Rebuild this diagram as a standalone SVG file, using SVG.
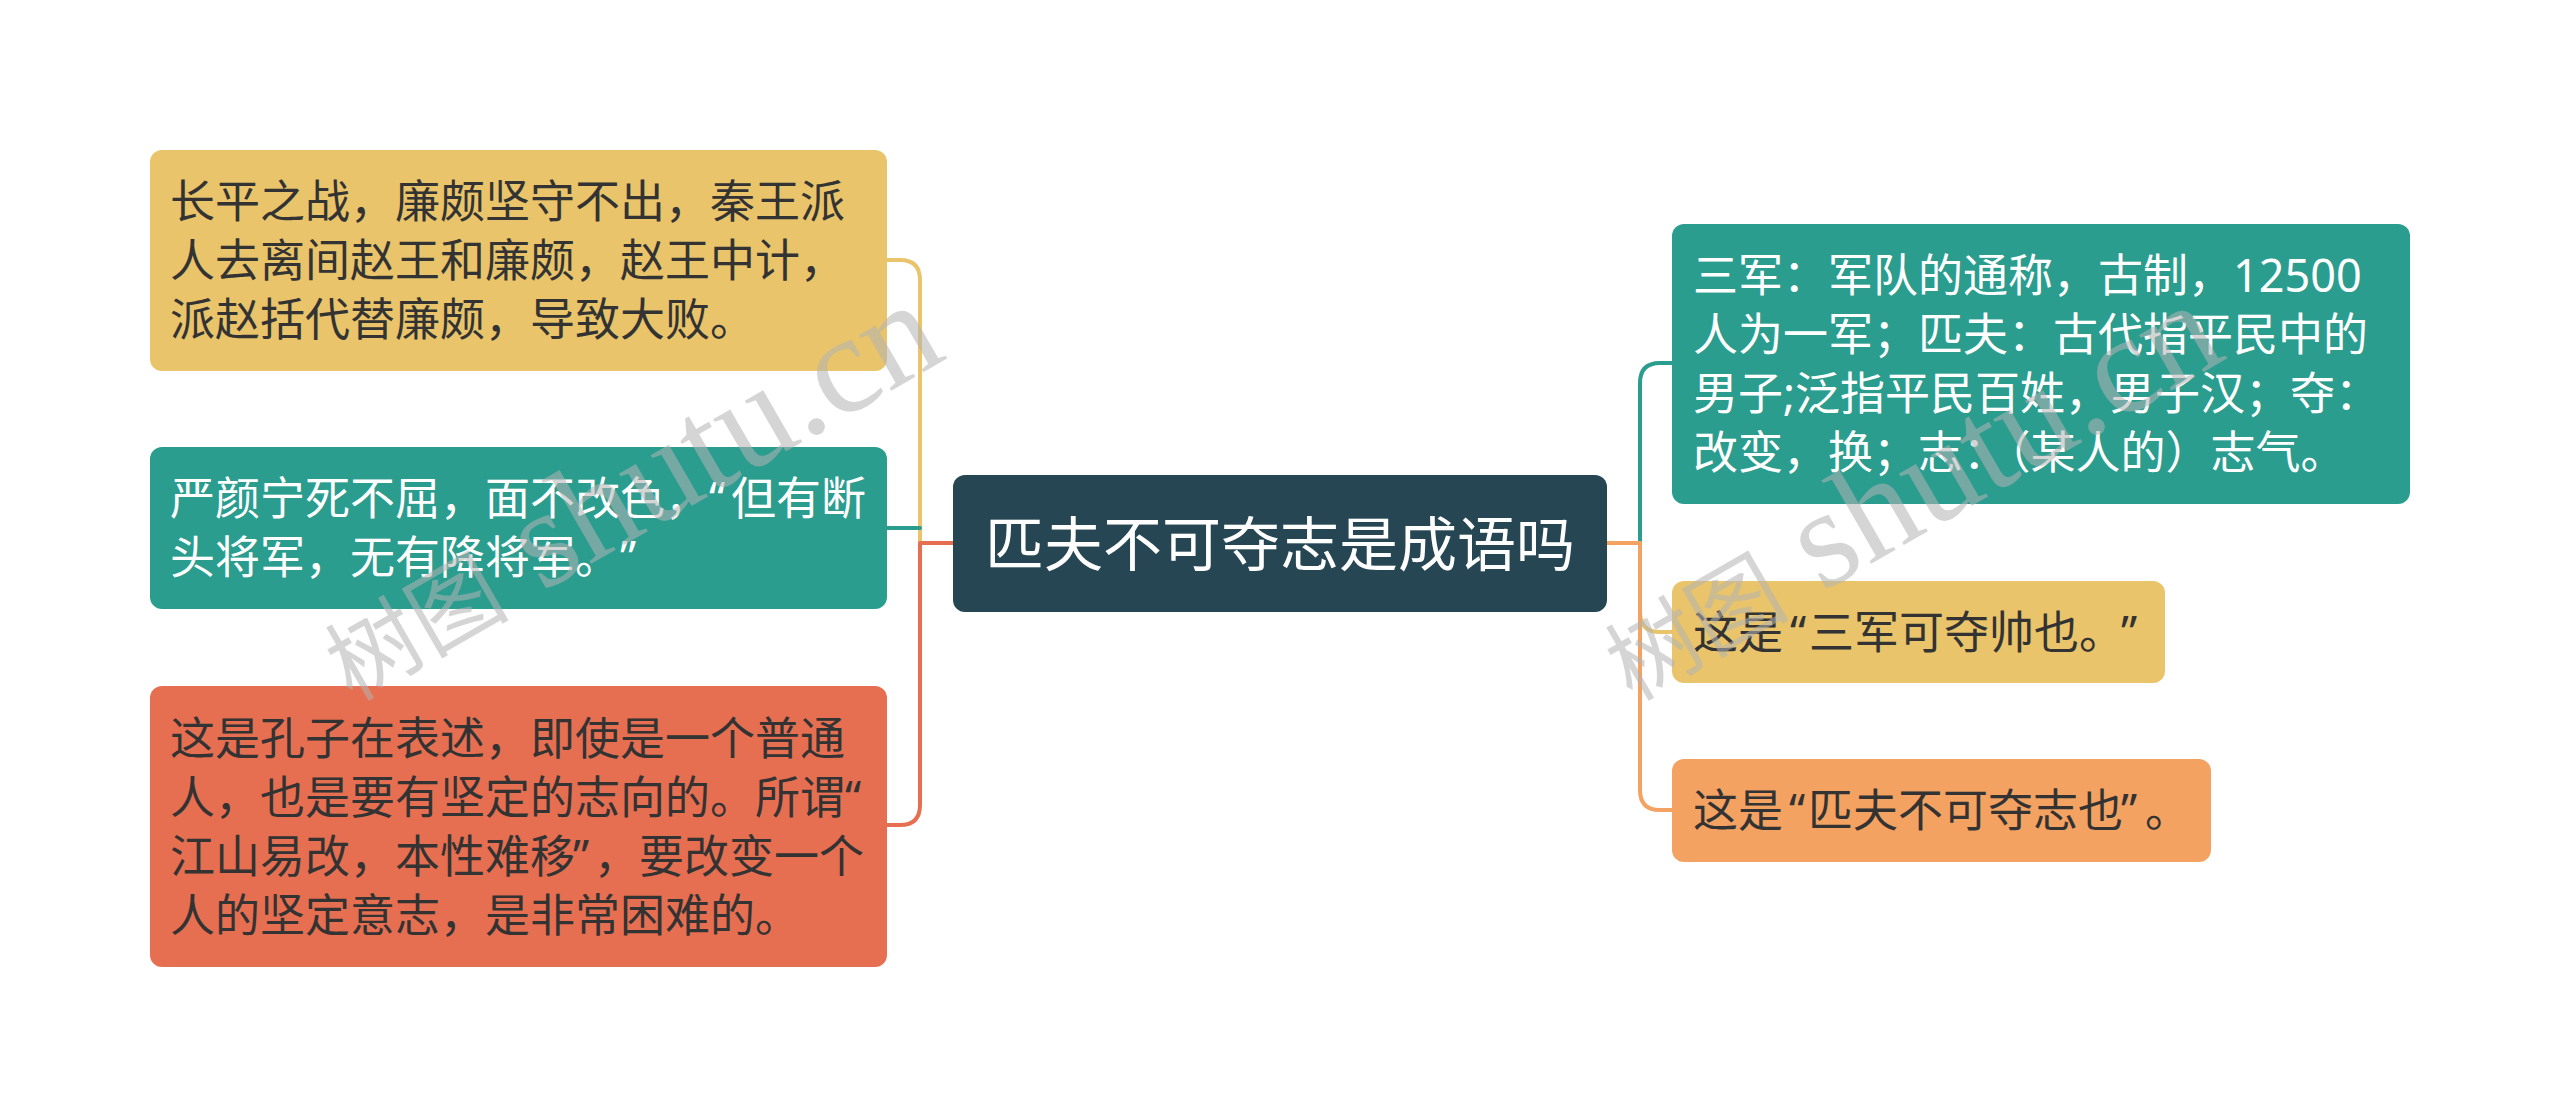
<svg xmlns="http://www.w3.org/2000/svg" width="2560" height="1116" viewBox="0 0 2560 1116">
<style>
.t{font-family:"Noto Sans","Noto Sans CJK SC",sans-serif;font-size:45px}
.q{font-family:"Noto Sans","Liberation Sans",sans-serif}
.dk{fill:#333333}
.wt{fill:#ffffff}
.ln{fill:none;stroke-width:4;stroke-linecap:round;stroke-linejoin:round}
.wm{font-family:"Liberation Serif","Noto Sans CJK SC",serif;fill:#b4b4b4;opacity:0.55}
</style>
<rect width="2560" height="1116" fill="#ffffff"/>
<g id="connectors">
  <path class="ln" stroke="#E9C46A" d="M920,543 V280 Q920,260 900,260 H887"/>
  <path class="ln" stroke="#2A9D8F" d="M920,528 H887"/>
  <path class="ln" stroke="#E76F51" d="M953,543 H920 V805 Q920,825 900,825 H887"/>
  <path class="ln" stroke="#2A9D8F" d="M1640,543 V383 Q1640,363 1660,363 H1672"/>
  <path class="ln" stroke="#E9C46A" d="M1640,543 V612 Q1640,632 1660,632 H1672"/>
  <path class="ln" stroke="#F4A261" d="M1607,543 H1640 V790 Q1640,810 1660,810 H1672"/>
</g>
<g id="root">
  <rect x="953" y="475" width="654" height="137" rx="12" fill="#264653"/>
  <text class="wt" x="1280" y="566" text-anchor="middle" style="font-family:'Noto Sans','Noto Sans CJK SC',sans-serif;font-size:59px">匹夫不可夺志是成语吗</text>
</g>
<g id="node-l1">
  <rect x="150" y="150" width="737" height="221" rx="12" fill="#E9C46A"/>
  <text class="t dk" x="170" y="218">长平之战，廉颇坚守不出，秦王派</text>
  <text class="t dk" x="170" y="277">人去离间赵王和廉颇，赵王中计，</text>
  <text class="t dk" x="170" y="336">派赵括代替廉颇，导致大败。</text>
</g>
<g id="node-l2">
  <rect x="150" y="447" width="737" height="162" rx="12" fill="#2A9D8F"/>
  <text class="t wt" x="170" y="515">严颜宁死不屈，面不改色，<tspan class="q" x="709">“</tspan><tspan x="731">但有断</tspan></text>
  <text class="t wt" x="170" y="574">头将军，无有降将军。<tspan class="q" x="620">”</tspan></text>
</g>
<g id="node-l3">
  <rect x="150" y="686" width="737" height="281" rx="12" fill="#E76F51"/>
  <text class="t dk" x="170" y="755">这是孔子在表述，即使是一个普通</text>
  <text class="t dk" x="170" y="814">人，也是要有坚定的志向的。所谓<tspan class="q" x="845">“</tspan></text>
  <text class="t dk" x="170" y="873">江山易改，本性难移<tspan class="q" x="573">”</tspan><tspan x="594">，要改变一个</tspan></text>
  <text class="t dk" x="170" y="932">人的坚定意志，是非常困难的。</text>
</g>
<g id="node-r1">
  <rect x="1672" y="224" width="738" height="280" rx="12" fill="#2A9D8F"/>
  <text class="t wt" x="1693" y="292">三军：军队的通称，古制，12500</text>
  <text class="t wt" x="1693" y="351">人为一军；匹夫：古代指平民中的</text>
  <text class="t wt" x="1693" y="410">男子;泛指平民百姓，男子汉；夺：</text>
  <text class="t wt" x="1693" y="469">改变，换；志：（某人的）志气。</text>
</g>
<g id="node-r2">
  <rect x="1672" y="581" width="493" height="102" rx="12" fill="#E9C46A"/>
  <text class="t dk" x="1693" y="649">这是<tspan class="q" x="1790">“</tspan><tspan x="1809">三军可夺帅也。</tspan><tspan class="q" x="2121">”</tspan></text>
</g>
<g id="node-r3">
  <rect x="1672" y="759" width="539" height="103" rx="12" fill="#F4A261"/>
  <text class="t dk" x="1693" y="827">这是<tspan class="q" x="1789">“</tspan><tspan x="1808">匹夫不可夺志也</tspan><tspan class="q" x="2121">”</tspan><tspan x="2145">。</tspan></text>
</g>
<g id="watermarks">
  <text class="wm" transform="translate(352,702) rotate(-30)"><tspan font-size="92">树图</tspan><tspan font-size="140"> shutu.cn</tspan></text>
  <text class="wm" transform="translate(1632,702) rotate(-30)"><tspan font-size="92">树图</tspan><tspan font-size="140"> shutu.cn</tspan></text>
</g>
</svg>
